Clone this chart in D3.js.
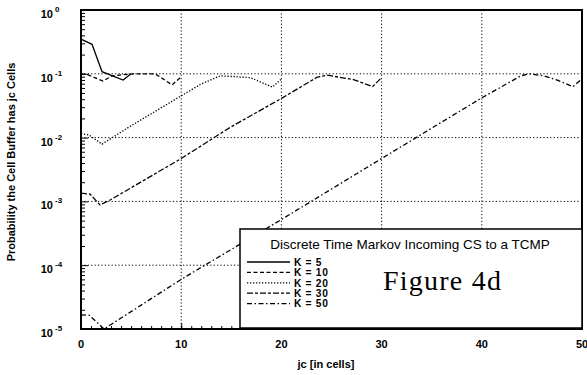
<!DOCTYPE html>
<html>
<head>
<meta charset="utf-8">
<script src="https://cdn.jsdelivr.net/npm/d3@7"></script>
<style>
  body { margin: 0; background: #fff; }
  svg { display: block; font-family: "Liberation Sans", Arial, sans-serif; }
  .grid line { stroke: #000; stroke-width: 1; stroke-dasharray: 1.2, 2.2; }
  .curve { fill: none; stroke: #000; stroke-width: 1.3; }
  .tick-label { font-size: 11px; font-weight: bold; }
  .label { font-size: 11px; font-weight: bold; }
</style>
</head>
<body>
<svg width="587" height="375"></svg>
<script>
// jc (cells) vs probability; each curve stops at jc = K
const jcTicks = [0, 10, 20, 30, 40, 50];
const decadeExponents = [0, -1, -2, -3, -4, -5];

const k5 = [[0, 0.35], [1.1, 0.29], [2.1, 0.108], [4.2, 0.08], [5, 0.1]];
const k10 = [[0, 0.1], [0.6, 0.098], [2.2, 0.077], [3.1, 0.093], [5.2, 0.1], [7.4, 0.1],
  [9.1, 0.067], [10, 0.09]];
const k20 = [[0, 0.0115], [0.8, 0.011], [2.1, 0.0079], [4.9, 0.015], [11.9, 0.068],
  [13.9, 0.093], [16.9, 0.087], [19.1, 0.062], [20, 0.083]];
const k30 = [[0, 0.00135], [0.9, 0.0013], [1.9, 0.00088], [2.9, 0.00105], [10, 0.0047],
  [14.9, 0.0145], [20.1, 0.042], [23.6, 0.089], [24.6, 0.095], [27.2, 0.081],
  [29.1, 0.063], [30, 0.087]];
const k50 = [[0, 1.66e-5], [0.8, 1.65e-5], [1.9, 1.15e-5], [2.3, 1.0e-5], [10, 6.0e-5],
  [20, 5.2e-4], [30, 0.0047], [40, 0.042], [43.9, 0.093], [44.7, 0.1], [46.2, 0.093],
  [47.4, 0.081], [49.1, 0.063], [50, 0.083]];

const legendLabels = ["K = 5", "K = 10", "K = 20", "K = 30", "K = 50"];
const series = [k5, k10, k20, k30, k50];
const dashes = ["none", "4,2.5", "1.3,1.7", "6,2,3,2", "5,2.5,1.5,2.5"];

const svg = d3.select("svg");

const plotLeft = 81, plotRight = 582, plotTop = 10, plotBottom = 329;

const xScale = d3.scaleLinear().domain([0, 50]).range([plotLeft, plotRight]);
const yScale = d3.scaleLog().domain([1e-5, 1]).range([plotBottom, plotTop]);

// dotted grid
const grid = svg.append("g").attr("class", "grid");
grid
  .selectAll(".v")
  .data(jcTicks.slice(1, -1))
  .enter()
  .append("line")
  .attr("x1", (d) => xScale(d))
  .attr("x2", (d) => xScale(d))
  .attr("y1", plotTop)
  .attr("y2", plotBottom);
grid
  .selectAll(".h")
  .data(decadeExponents.slice(1, -1))
  .enter()
  .append("line")
  .attr("x1", plotLeft)
  .attr("x2", plotRight)
  .attr("y1", (e) => yScale(Math.pow(10, e)))
  .attr("y2", (e) => yScale(Math.pow(10, e)));

// curves
const line = d3
  .line()
  .x((d) => xScale(d[0]))
  .y((d) => yScale(d[1]));

svg
  .selectAll(".curve")
  .data(series)
  .enter()
  .append("path")
  .attr("class", "curve")
  .attr("d", line)
  .attr("stroke-dasharray", (d, i) => dashes[i]);

// frame + axes
svg
  .append("rect")
  .attr("x", plotLeft)
  .attr("y", plotTop)
  .attr("width", plotRight - plotLeft)
  .attr("height", plotBottom - plotTop)
  .attr("fill", "none")
  .attr("stroke", "#000")
  .attr("stroke-width", 2);

const yMinor = [];
decadeExponents.slice(1).forEach((e) => {
  for (let m = 2; m <= 9; m++) yMinor.push(m * Math.pow(10, e));
});

svg
  .append("g")
  .attr("transform", `translate(${plotLeft},0)`)
  .call(d3.axisRight(yScale).tickValues(yMinor).tickSize(4).tickFormat(""))
  .call((g) => g.select(".domain").remove());

svg
  .append("g")
  .attr("transform", `translate(${plotLeft},0)`)
  .call(
    d3
      .axisRight(yScale)
      .tickValues(decadeExponents.map((e) => Math.pow(10, e)))
      .tickSize(7)
      .tickFormat("")
  )
  .call((g) => g.select(".domain").remove());

svg
  .append("g")
  .attr("transform", `translate(0,${plotBottom})`)
  .call(d3.axisTop(xScale).ticks(50).tickSize(3).tickFormat(""))
  .call((g) => g.select(".domain").remove());

svg
  .append("g")
  .attr("transform", `translate(0,${plotBottom})`)
  .call(d3.axisTop(xScale).tickValues(jcTicks).tickSize(6).tickFormat(""))
  .call((g) => g.select(".domain").remove());

// tick labels
svg
  .selectAll(".xlab")
  .data(jcTicks)
  .enter()
  .append("text")
  .attr("class", "tick-label")
  .attr("x", (d) => xScale(d))
  .attr("y", plotBottom + 19)
  .attr("text-anchor", "middle")
  .text((d) => d);

svg
  .selectAll(".ylab")
  .data(decadeExponents)
  .enter()
  .append("text")
  .attr("class", "tick-label")
  .attr("x", 53)
  .attr("y", (e) => yScale(Math.pow(10, e)) + 8)
  .attr("text-anchor", "end")
  .text("10");

svg
  .selectAll(".yexp")
  .data(decadeExponents)
  .enter()
  .append("text")
  .attr("x", 55)
  .attr("y", (e) => yScale(Math.pow(10, e)) + 2)
  .attr("font-size", 8)
  .attr("font-weight", "bold")
  .text((e) => e);

// axis titles
svg
  .append("text")
  .attr("class", "label")
  .attr("x", 326)
  .attr("y", 368)
  .attr("text-anchor", "middle")
  .text("jc [in cells]");

svg
  .append("text")
  .attr("class", "label")
  .attr("transform", "translate(15,162) rotate(-90)")
  .attr("text-anchor", "middle")
  .attr("font-size", 10)
  .text("Probability the Cell Buffer has jc Cells");

// legend box
const legend = svg.append("g");
legend
  .append("rect")
  .attr("x", 240)
  .attr("y", 229)
  .attr("width", plotRight - 240)
  .attr("height", 99)
  .attr("fill", "#fff")
  .attr("stroke", "#000")
  .attr("stroke-width", 1.5);

legend
  .append("text")
  .attr("x", 410)
  .attr("y", 249)
  .attr("text-anchor", "middle")
  .attr("font-size", 13.5)
  .text("Discrete Time Markov Incoming CS to a TCMP");

const rows = legend
  .selectAll(".row")
  .data(legendLabels)
  .enter()
  .append("g")
  .attr("transform", (d, i) => `translate(0,${262 + i * 10.4})`);

rows
  .append("line")
  .attr("x1", 247)
  .attr("x2", 290)
  .attr("stroke", "#000")
  .attr("stroke-width", 1.3)
  .attr("stroke-dasharray", (d, i) => dashes[i]);

rows
  .append("text")
  .attr("x", 294)
  .attr("y", 3.8)
  .attr("font-size", 10.2)
  .attr("font-weight", "bold")
  .attr("letter-spacing", 0.7)
  .text((d) => d);

legend
  .append("text")
  .attr("x", 383)
  .attr("y", 290)
  .attr("font-family", "'Liberation Serif', 'Times New Roman', serif")
  .attr("font-size", 28)
  .attr("textLength", 118)
  .attr("lengthAdjust", "spacing")
  .text("Figure 4d");
</script>
</body>
</html>
